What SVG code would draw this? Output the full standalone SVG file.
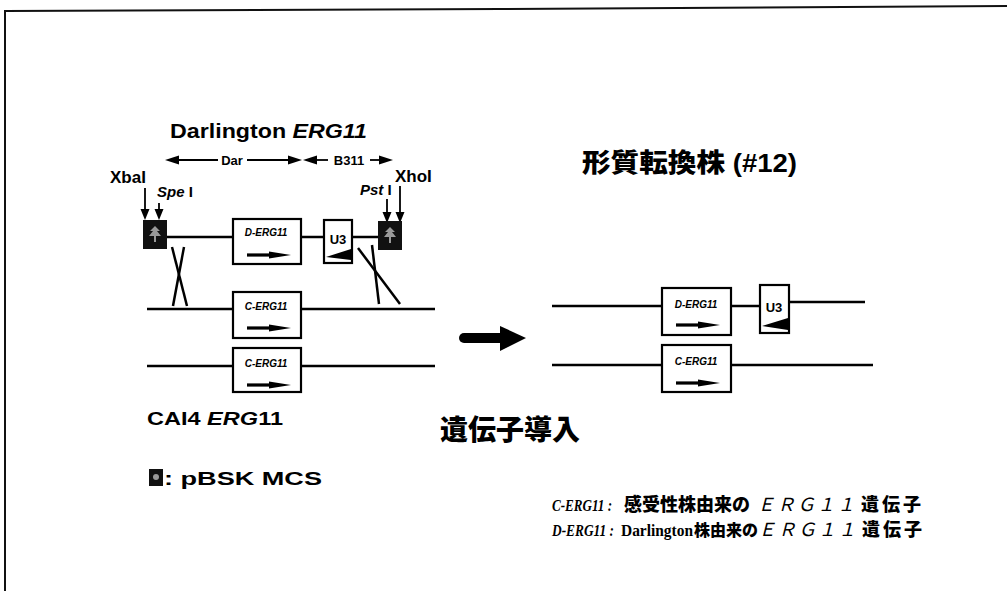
<svg xmlns="http://www.w3.org/2000/svg" width="1007" height="591" viewBox="0 0 1007 591">
<defs>
<style>
.frame{fill:none;stroke:#111;stroke-width:2}
.ln{stroke:#000;stroke-width:2.5;fill:none}
.box{fill:#fff;stroke:#000;stroke-width:2.2}
.thin{stroke:#000;stroke-width:1.8;fill:none}
.sans{font-family:"Liberation Sans",Arial,sans-serif;font-weight:bold;fill:#000}
.it{font-style:italic}
.glab{font-family:"Liberation Sans",Arial,sans-serif;font-weight:bold;font-style:italic;font-size:10px;text-anchor:middle;fill:#000}
.cjk{font-family:"Noto Sans CJK JP",sans-serif;font-weight:900;fill:#000}
.serif{font-family:"Liberation Serif","Times New Roman",serif;font-weight:bold;fill:#000}
.fw{font-family:"Noto Sans CJK JP",sans-serif;font-weight:normal;font-style:italic;fill:#000}
.blk{fill:#000}
</style>
<g id="garrow"><rect x="0" y="-1.6" width="26" height="3.2" fill="#000"/><polygon points="22,-3.6 44,0 22,3.6" fill="#000"/></g>
<g id="mcs"><rect x="0" y="0" width="24" height="29" fill="#111"/><path d="M12,6 l-5,5 h3 l-4,5 h5 v6 h-4 h10 h-4 v-6 h5 l-4,-5 h3 z" fill="#9a9a9a"/></g>
</defs>

<path class="frame" d="M5,591 L5,11 L500,9 L1007,6"/>

<g id="title-dar">
<text class="sans" x="170" y="138" font-size="21" textLength="197" lengthAdjust="spacingAndGlyphs">Darlington <tspan class="it">ERG11</tspan></text>
</g>

<g id="region-arrows">
<line class="thin" x1="172" y1="160" x2="218" y2="160"/>
<line class="thin" x1="247" y1="160" x2="295" y2="160"/>
<polygon class="blk" points="165,160 179,155.5 179,164.5"/>
<polygon class="blk" points="302,160 288,155.5 288,164.5"/>
<text class="sans" x="232" y="165" font-size="13" text-anchor="middle">Dar</text>
<line class="thin" x1="310" y1="160" x2="328" y2="160"/>
<line class="thin" x1="370" y1="160" x2="386" y2="160"/>
<polygon class="blk" points="303,160 317,155.5 317,164.5"/>
<polygon class="blk" points="393,160 379,155.5 379,164.5"/>
<text class="sans" x="349" y="165" font-size="13" text-anchor="middle">B311</text>
</g>

<g id="sites">
<text class="sans" x="110" y="183" font-size="17">XbaI</text>
<text class="sans" x="157" y="197" font-size="15"><tspan class="it">Spe</tspan> I</text>
<text class="sans" x="360" y="195" font-size="15"><tspan class="it">Pst</tspan> I</text>
<text class="sans" x="395" y="182" font-size="17">XhoI</text>
<line class="thin" x1="145" y1="188" x2="145" y2="212"/>
<polygon class="blk" points="145,220 140.5,209 149.5,209"/>
<line class="thin" x1="159" y1="203" x2="159" y2="212"/>
<polygon class="blk" points="159,220 154.5,209 163.5,209"/>
<line class="thin" x1="387" y1="199" x2="387" y2="215"/>
<polygon class="blk" points="387,223 382.5,212 391.5,212"/>
<line class="thin" x1="400" y1="186" x2="400" y2="215"/>
<polygon class="blk" points="400,223 395.5,212 404.5,212"/>
</g>

<g id="connectors">
<line class="ln" x1="167" y1="237" x2="233" y2="237"/>
<line class="ln" x1="301" y1="237" x2="324" y2="237"/>
<line class="ln" x1="352" y1="237" x2="378" y2="237"/>
<line class="ln" x1="147" y1="309" x2="233" y2="309"/>
<line class="ln" x1="301" y1="309" x2="435" y2="309"/>
<line class="ln" x1="147" y1="366" x2="233" y2="366"/>
<line class="ln" x1="301" y1="366" x2="435" y2="366"/>
<line class="ln" x1="172" y1="247" x2="187" y2="306"/>
<line class="ln" x1="184" y1="247" x2="173" y2="306"/>
<line class="ln" x1="358" y1="248" x2="400" y2="304"/>
<line class="ln" x1="372" y1="245" x2="379" y2="304"/>
<line class="ln" x1="552" y1="306" x2="662" y2="306"/>
<line class="ln" x1="731" y1="306" x2="760" y2="306"/>
<line class="ln" x1="789" y1="302" x2="865" y2="302"/>
<line class="ln" x1="552" y1="365" x2="662" y2="365"/>
<line class="ln" x1="731" y1="365" x2="873" y2="365"/>
<g id="transfer-arrow">
<line x1="464" y1="338" x2="502" y2="338" stroke="#000" stroke-width="10" stroke-linecap="round"/>
<polygon class="blk" points="500,326 526,338 500,351"/>
</g>
</g>

<g id="mcs-left"><use href="#mcs" x="143" y="220"/></g>
<g id="mcs-right"><use href="#mcs" x="378" y="221"/></g>

<g id="d-erg11-top">
<rect class="box" x="233" y="219" width="68" height="45"/>
<text class="glab" x="266" y="236">D-ERG11</text>
<use href="#garrow" x="247" y="255"/>
</g>
<g id="u3-top">
<rect class="box" x="324" y="220" width="28" height="43"/>
<text class="sans" x="338" y="244" font-size="13" text-anchor="middle">U3</text>
<polygon class="blk" points="326,257 351,249 351,260"/>
</g>
<g id="c-erg11-mid">
<rect class="box" x="233" y="292" width="68" height="46"/>
<text class="glab" x="266" y="310">C-ERG11</text>
<use href="#garrow" x="247" y="328"/>
</g>
<g id="c-erg11-bot">
<rect class="box" x="233" y="348" width="68" height="44"/>
<text class="glab" x="266" y="367">C-ERG11</text>
<use href="#garrow" x="247" y="385"/>
</g>

<g id="d-erg11-right">
<rect class="box" x="662" y="288" width="69" height="47"/>
<text class="glab" x="696" y="308">D-ERG11</text>
<use href="#garrow" x="676" y="325"/>
</g>
<g id="u3-right">
<rect class="box" x="760" y="285" width="29" height="48"/>
<text class="sans" x="774" y="312" font-size="13" text-anchor="middle">U3</text>
<polygon class="blk" points="762,326 788,318 788,330"/>
</g>
<g id="c-erg11-right">
<rect class="box" x="662" y="345" width="69" height="47"/>
<text class="glab" x="696" y="365">C-ERG11</text>
<use href="#garrow" x="676" y="383"/>
</g>

<g id="title-transformant">
<text x="582" y="172" textLength="215" lengthAdjust="spacingAndGlyphs"><tspan class="cjk" font-size="26">形質転換株</tspan><tspan class="sans" font-size="25"> (#12)</tspan></text>
</g>

<g id="label-cai4">
<text class="sans" x="147" y="425" font-size="19" textLength="136" lengthAdjust="spacingAndGlyphs">CAI4 <tspan class="it">ERG</tspan>11</text>
</g>

<g id="label-transfer">
<text class="cjk" x="440" y="440" font-size="28">遺伝子導入</text>
</g>

<g id="legend-mcs">
<rect x="149" y="469" width="14" height="17" fill="#111"/>
<circle cx="156" cy="477" r="3" fill="#999"/>
<text class="sans" x="164" y="485" font-size="19" textLength="158" lengthAdjust="spacingAndGlyphs">: pBSK MCS</text>
</g>

<g id="legend-genes">
<text class="serif it" x="552" y="511" font-size="16" textLength="60" lengthAdjust="spacingAndGlyphs">C-ERG11 :</text>
<text class="cjk" x="624" y="511" font-size="18">感受性株由来の</text>
<text class="fw" x="757" y="511" font-size="18" letter-spacing="2">ＥＲＧ１１</text>
<text class="cjk" x="861" y="511" font-size="18" letter-spacing="3">遺伝子</text>
<text class="serif it" x="552" y="536" font-size="16" textLength="62" lengthAdjust="spacingAndGlyphs">D-ERG11 :</text>
<text class="serif" x="621" y="536" font-size="16" textLength="72" lengthAdjust="spacingAndGlyphs">Darlington</text>
<text class="cjk" x="694" y="536" font-size="16">株由来の</text>
<text class="fw" x="758" y="536" font-size="18" letter-spacing="2">ＥＲＧ１１</text>
<text class="cjk" x="862" y="536" font-size="18" letter-spacing="3">遺伝子</text>
</g>
</svg>
